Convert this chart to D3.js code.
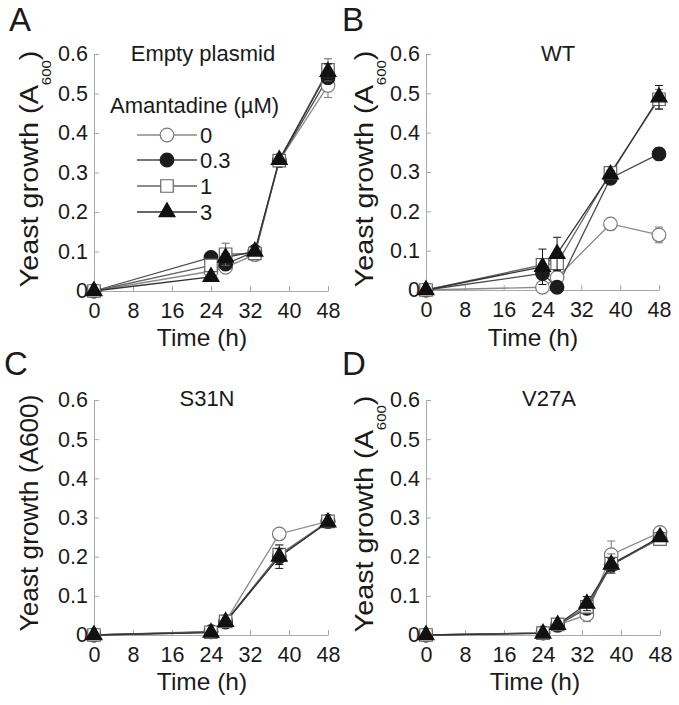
<!DOCTYPE html>
<html><head><meta charset="utf-8">
<script src="https://cdn.jsdelivr.net/npm/d3@7"></script>
<style>body{margin:0;background:#fff} svg{display:block} text{font-family:"Liberation Sans",Arial,sans-serif;fill:#1a1a1a}</style>
</head><body>
<svg id="c" width="679" height="705"></svg>
<script>
// ---------- data ----------
const concentrations = ["0", "0.3", "1", "3"];
const xTicks = [0, 8, 16, 24, 32, 40, 48];
const yTicks = [0, 0.1, 0.2, 0.3, 0.4, 0.5, 0.6];
const yTickLabels = ["0", "0.1", "0.2", "0.3", "0.4", "0.5", "0.6"];
const panelTitles = ["Empty plasmid", "WT", "S31N", "V27A"];
const panelLetters = ["A", "B", "C", "D"];

// A: Empty plasmid
const timesA = [0, 24, 27, 33, 38, 48];
const emptyC0 = [0, 0.050, 0.060, 0.092, 0.330, 0.520];
const emptyC03 = [0, 0.085, 0.068, 0.100, 0.330, 0.540];
const emptyC1 = [0, 0.065, 0.093, 0.095, 0.330, 0.560];
const emptyC3 = [0, 0.036, 0.085, 0.100, 0.332, 0.555];
const emptyE0 = [0, 0.010, 0.010, 0.005, 0.005, 0.030];
const emptyE03 = [0, 0.005, 0.010, 0.005, 0.005, 0.015];
const emptyE1 = [0, 0.010, 0.028, 0.005, 0.005, 0.028];
const emptyE3 = [0, 0.005, 0.010, 0.005, 0.005, 0.020];

// B: WT
const timesB = [0, 24, 27, 38, 48];
const wtC0 = [0, 0.007, 0.032, 0.168, 0.140];
const wtC03 = [0, 0.042, 0.007, 0.284, 0.346];
const wtC1 = [0, 0.064, 0.068, 0.298, 0.485];
const wtC3 = [0, 0.059, 0.092, 0.294, 0.490];
const wtE0 = [0, 0.005, 0.008, 0.010, 0.020];
const wtE03 = [0, 0.010, 0.005, 0.008, 0.015];
const wtE1 = [0, 0.015, 0.020, 0.010, 0.025];
const wtE3 = [0, 0.045, 0.042, 0.010, 0.030];

// C: S31N
const timesC = [0, 24, 27, 38, 48];
const s31nC0 = [0, 0.009, 0.035, 0.258, 0.290];
const s31nC03 = [0, 0.008, 0.033, 0.200, 0.290];
const s31nC1 = [0, 0.007, 0.035, 0.205, 0.290];
const s31nC3 = [0, 0.006, 0.034, 0.200, 0.288];
const s31nE0 = [0, 0.003, 0.005, 0.008, 0.005];
const s31nE03 = [0, 0.003, 0.005, 0.030, 0.005];
const s31nE1 = [0, 0.003, 0.005, 0.025, 0.005];
const s31nE3 = [0, 0.003, 0.005, 0.020, 0.005];

// D: V27A
const timesD = [0, 24, 27, 33, 38, 48];
const v27aC0 = [0, 0.006, 0.025, 0.052, 0.205, 0.262];
const v27aC03 = [0, 0.005, 0.025, 0.068, 0.178, 0.247];
const v27aC1 = [0, 0.005, 0.027, 0.072, 0.182, 0.245];
const v27aC3 = [0, 0.004, 0.026, 0.080, 0.180, 0.250];
const v27aE0 = [0, 0.003, 0.005, 0.018, 0.035, 0.008];
const v27aE03 = [0, 0.003, 0.005, 0.010, 0.020, 0.005];
const v27aE1 = [0, 0.003, 0.005, 0.010, 0.025, 0.005];
const v27aE3 = [0, 0.003, 0.005, 0.018, 0.015, 0.005];

// ---------- styles / layout ----------
const styles = [
  {shape: "circle", fill: "#fff", stroke: "#7a7a7a", line: "#8a8a8a"},
  {shape: "circle", fill: "#1c1c1c", stroke: "#1c1c1c", line: "#4a4a4a"},
  {shape: "square", fill: "#fff", stroke: "#666", line: "#666"},
  {shape: "triangle", fill: "#111", stroke: "#111", line: "#333"}
];
const layout = [
  {x0: 94, x1: 328, y0: 291, y1: 54, lx: 9, ly: 31, tx: 203, ty: 61, ylx: 38, yly: 169, xlx: 202, xly: 346, sub: true},
  {x0: 426, x1: 659, y0: 290, y1: 54, lx: 342, ly: 31, tx: 558, ty: 61, ylx: 373, yly: 169, xlx: 533, xly: 346, sub: true},
  {x0: 94, x1: 328, y0: 635, y1: 400, lx: 4, ly: 375, tx: 207, ty: 406, ylx: 38, yly: 513, xlx: 202, xly: 690, sub: false},
  {x0: 426, x1: 660, y0: 635, y1: 400, lx: 342, ly: 375, tx: 549, ty: 406, ylx: 373, yly: 514, xlx: 535, xly: 690, sub: true}
];
const panelData = [
  {times: timesA, vals: [emptyC0, emptyC03, emptyC1, emptyC3], errs: [emptyE0, emptyE03, emptyE1, emptyE3]},
  {times: timesB, vals: [wtC0, wtC03, wtC1, wtC3], errs: [wtE0, wtE03, wtE1, wtE3]},
  {times: timesC, vals: [s31nC0, s31nC03, s31nC1, s31nC3], errs: [s31nE0, s31nE03, s31nE1, s31nE3]},
  {times: timesD, vals: [v27aC0, v27aC03, v27aC1, v27aC3], errs: [v27aE0, v27aE03, v27aE1, v27aE3]}
];

const svg = d3.select("#c");
const symTypes = {circle: d3.symbolCircle, square: d3.symbolSquare, triangle: d3.symbolTriangle};
const symSizes = {circle: Math.PI * 6.8 * 6.8, square: 156, triangle: 110};
function sym(shape) { return d3.symbol().type(symTypes[shape]).size(symSizes[shape])(); }

panelData.forEach((pd, pi) => {
  const L = layout[pi];
  const g = svg.append("g");
  const x = d3.scaleLinear().domain([0, 48]).range([L.x0, L.x1]);
  const y = d3.scaleLinear().domain([0, 0.6]).range([L.y0, L.y1]);

  // axes
  const xa = g.append("g").attr("transform", `translate(0,${L.y0})`)
    .call(d3.axisBottom(x).tickValues(xTicks).tickSizeInner(-5).tickSizeOuter(0).tickPadding(12));
  const ya = g.append("g").attr("transform", `translate(${L.x0},0)`)
    .call(d3.axisLeft(y).tickValues(yTicks).tickFormat((d, i) => yTickLabels[i]).tickSizeInner(-5).tickSizeOuter(0).tickPadding(6));
  [xa, ya].forEach(a => {
    a.selectAll("path,line").attr("stroke", "#a8a8a8").attr("stroke-width", 1);
    a.selectAll("text").attr("font-size", 21.5).attr("fill", "#1a1a1a").attr("font-family", '"Liberation Sans",Arial,sans-serif');
  });

  // series lines
  pd.vals.forEach((vals, si) => {
    const st = styles[si];
    const line = d3.line().x((d, i) => x(pd.times[i])).y(d => y(d));
    g.append("path").attr("d", line(vals)).attr("fill", "none")
      .attr("stroke", st.line).attr("stroke-width", 1.3);
  });
  // error bars and markers
  pd.vals.forEach((vals, si) => {
    const st = styles[si];
    const errs = pd.errs[si];
    vals.forEach((v, i) => {
      const e = errs[i];
      if (e > 0.006) {
        const cx = x(pd.times[i]);
        g.append("line").attr("x1", cx).attr("x2", cx).attr("y1", y(v - e)).attr("y2", y(v + e))
          .attr("stroke", st.stroke).attr("stroke-width", 1);
        [v - e, v + e].forEach(w => g.append("line").attr("x1", cx - 4).attr("x2", cx + 4)
          .attr("y1", y(w)).attr("y2", y(w)).attr("stroke", st.stroke).attr("stroke-width", 1));
      }
    });
    g.selectAll(null).data(vals).enter().append("path")
      .attr("d", sym(st.shape))
      .attr("transform", (d, i) => `translate(${x(pd.times[i])},${y(d)})`)
      .attr("fill", st.fill).attr("stroke", st.stroke).attr("stroke-width", 1.2);
  });

  // panel letter
  svg.append("text").attr("x", L.lx).attr("y", L.ly).attr("font-size", 33).text(panelLetters[pi]);
  // title
  svg.append("text").attr("x", L.tx).attr("y", L.ty).attr("text-anchor", "middle").attr("font-size", 22).text(panelTitles[pi]);
  // x label
  svg.append("text").attr("x", L.xlx).attr("y", L.xly).attr("text-anchor", "middle").attr("font-size", 24.5).text("Time (h)");
  // y label
  const yg = svg.append("g").attr("transform", `translate(${L.ylx},${L.yly}) rotate(-90)`);
  const yt = yg.append("text").attr("font-size", 25).attr("text-anchor", "middle");
  if (L.sub) {
    yt.append("tspan").text("Yeast growth (A");
    yt.append("tspan").attr("font-size", 13).attr("dy", 13).text("600");
    yt.append("tspan").attr("dy", -13).text(")");
  } else {
    yt.text("Yeast growth (A600)");
  }
  const natural = yt.node().getComputedTextLength();
  const target = 237;
  yt.attr("transform", `scale(${target / natural},1)`);

  // legend (panel A)
  if (pi === 0) {
    svg.append("text").attr("x", 110).attr("y", 113).attr("font-size", 22).text("Amantadine (\u00b5M)");
    const rows = [135, 160, 186, 212];
    concentrations.forEach((c, si) => {
      const st = styles[si];
      svg.append("line").attr("x1", 137).attr("x2", 197).attr("y1", rows[si]).attr("y2", rows[si])
        .attr("stroke", st.line).attr("stroke-width", 1.3);
      svg.append("path").attr("d", sym(st.shape)).attr("transform", `translate(167,${rows[si]})`)
        .attr("fill", st.fill).attr("stroke", st.stroke).attr("stroke-width", 1.2);
      svg.append("text").attr("x", 200).attr("y", rows[si]).attr("dy", "0.36em").attr("font-size", 22).text(c);
    });
  }
});
</script>
</body></html>
